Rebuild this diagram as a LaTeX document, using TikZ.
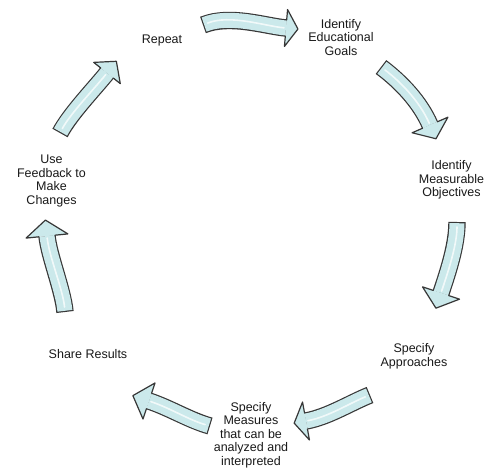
\documentclass[tikz,border=0pt]{standalone}
\usepackage{fontspec}
\setmainfont{Liberation Sans}
\usetikzlibrary{calc}
\definecolor{arrowfill}{RGB}{203,233,235}
\definecolor{arrowline}{RGB}{55,55,55}
\definecolor{labeltext}{RGB}{25,25,25}
\tikzset{
  lbl/.style={font=\fontsize{12.5}{13.6}\selectfont, text=labeltext, align=center, inner sep=0pt},
  bodyout/.style={draw=arrowline, line width=17.4pt},
  bodyin/.style={draw=arrowfill, line width=15pt, shorten <=1.2pt},
  headfill/.style={fill=arrowfill},
  headline/.style={draw=arrowline, line width=1.2pt, line join=round, line cap=round},
  shine/.style={draw=white, line width=1.6pt, opacity=0.75, line cap=round, shorten <=5pt, shorten >=2pt},
}
% #1 prefix, #2 c1, #3 c2, #4 head length, #5 head half width
\newcommand{\cyclearrow}[5]{%
  \draw[bodyout] (#1t) .. controls #2 and #3 .. (#1b);
  \draw[bodyin] (#1t) .. controls #2 and #3 .. (#1b);
  \draw[shine] (#1t) .. controls #2 and #3 .. (#1b);
  \coordinate (#1p) at ($(#1b)!-#4pt!#3$);
  \coordinate (#1l) at ($(#1b)!#5pt!90:(#1p)$);
  \coordinate (#1r) at ($(#1b)!#5pt!-90:(#1p)$);
  \coordinate (#1lb) at ($(#1b)!8.1pt!90:(#1p)$);
  \coordinate (#1rb) at ($(#1b)!8.1pt!-90:(#1p)$);
  \fill[headfill] (#1l) -- (#1p) -- (#1r) -- cycle;
  \draw[headline] (#1lb) -- (#1l) -- (#1p) -- (#1r) -- (#1rb);
}
\begin{document}
\begin{tikzpicture}[x=1pt,y=-1pt]
\fill[white] (0,0) rectangle (488,468);
\useasboundingbox (0,0) rectangle (488,468);

% labels
\node[lbl] (repeat) at (162,40) {Repeat};
\node[lbl] (goals) at (341,37.5) {Identify\\Educational\\Goals};
\node[lbl] (objectives) at (451.5,180) {Identify\\Measurable\\Objectives};
\node[lbl] (approaches) at (414,356) {Specify\\Approaches};
\node[lbl] (measures) at (251,435) {Specify\\Measures\\that can be\\analyzed and\\interpreted};
\node[lbl] (share) at (88,354) {Share Results};
\node[lbl] (feedback) at (51.5,181) {Use\\Feedback to\\Make\\Changes};

% arrow end points
\coordinate (a1t) at (203,25);  \coordinate (a1b) at (286,28);
\coordinate (a2t) at (381,67);  \coordinate (a2b) at (430,125);
\coordinate (a3t) at (457,222); \coordinate (a3b) at (441,293);
\coordinate (a4t) at (370,395); \coordinate (a4b) at (306,421);
\coordinate (a5t) at (210,426); \coordinate (a5b) at (149,401);
\coordinate (a6t) at (65,312);  \coordinate (a6b) at (47,236);
\coordinate (a7t) at (60,133);  \coordinate (a7b) at (107,73);

\cyclearrow{a1}{(230,14)}{(266,26.3)}{12}{18.5}
\cyclearrow{a2}{(401,82)}{(420,102)}{15}{19.5}
\cyclearrow{a3}{(457,245)}{(448,272)}{16}{19.5}
\cyclearrow{a4}{(350,403)}{(328,417)}{12}{19.3}
\cyclearrow{a5}{(189,420)}{(170,408)}{17}{19}
\cyclearrow{a6}{(63,290)}{(49,256)}{16}{21}
\cyclearrow{a7}{(70,114)}{(95,88)}{15}{17}
\end{tikzpicture}
\end{document}
